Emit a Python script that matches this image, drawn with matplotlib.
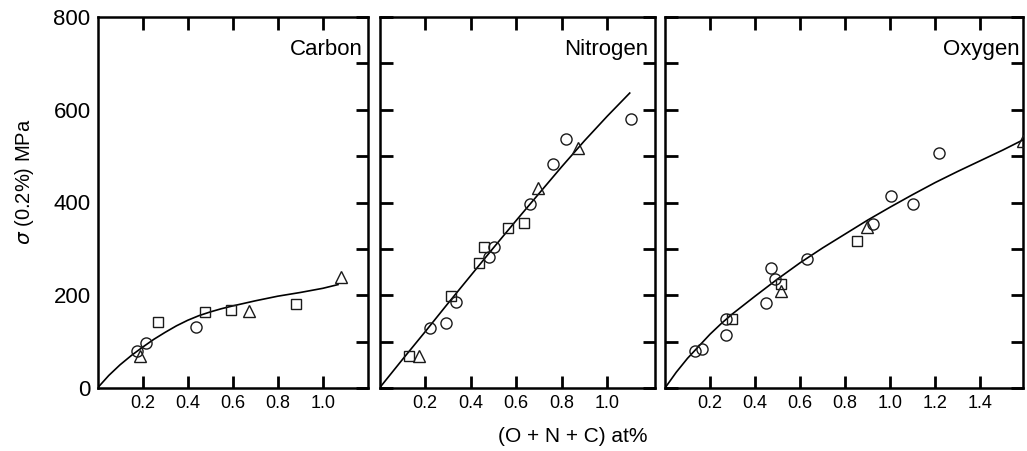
import matplotlib.pyplot as plt

plt.rcParams['font.family'] = 'Liberation Sans'

# Carbon panel
carbon_fit_x = [0.0, 0.05, 0.1, 0.15, 0.2, 0.25, 0.3, 0.35, 0.4, 0.45, 0.5, 0.55, 0.6,
                0.7, 0.8, 0.9, 1.0, 1.067]
carbon_fit_y = [0, 27, 50, 70, 88, 105, 120, 134, 146, 156, 164, 171, 177,
                188, 198, 206, 215, 223]
carbon_circ_x = [0.174, 0.216, 0.438]
carbon_circ_y = [80, 98, 131]
carbon_sq_x = [0.27, 0.475, 0.592, 0.882]
carbon_sq_y = [143, 164, 168, 182]
carbon_tri_x = [0.189, 0.673, 1.082]
carbon_tri_y = [70, 167, 240]

# Nitrogen panel
nitro_fit_x = [0.0, 0.1, 0.2, 0.3, 0.4, 0.5, 0.6, 0.7, 0.8, 0.9, 1.0, 1.099]
nitro_fit_y = [0, 61, 121, 182, 242, 302, 361, 419, 477, 533, 586, 636]
nitro_circ_x = [0.22, 0.29, 0.337, 0.481, 0.503, 0.659, 0.762, 0.82, 1.106]
nitro_circ_y = [130, 141, 185, 283, 305, 397, 482, 537, 580]
nitro_sq_x = [0.129, 0.315, 0.437, 0.457, 0.564, 0.634]
nitro_sq_y = [70, 198, 270, 305, 344, 356]
nitro_tri_x = [0.173, 0.696, 0.872]
nitro_tri_y = [70, 431, 517]

# Oxygen panel
oxy_fit_x = [0.0, 0.05, 0.1, 0.15, 0.2, 0.25, 0.3, 0.4, 0.5, 0.6, 0.7, 0.8, 0.9,
             1.0, 1.1, 1.2, 1.3, 1.4, 1.5, 1.59]
oxy_fit_y = [0, 34, 64, 90, 116, 139, 160, 198, 235, 270, 302, 332, 362,
             390, 417, 443, 467, 490, 513, 535]
oxy_circ_x = [0.133, 0.163, 0.27, 0.27, 0.449, 0.47, 0.489, 0.63, 0.926, 1.003, 1.1, 1.219]
oxy_circ_y = [80, 84, 148, 114, 183, 259, 234, 278, 354, 415, 397, 507]
oxy_sq_x = [0.296, 0.516, 0.852]
oxy_sq_y = [148, 224, 317]
oxy_tri_x = [0.516, 0.896, 1.59]
oxy_tri_y = [210, 348, 533]

panels = [
    ("Carbon", 1.2, [97.5, 270.5], carbon_fit_x, carbon_fit_y,
     (carbon_circ_x, carbon_circ_y), (carbon_sq_x, carbon_sq_y), (carbon_tri_x, carbon_tri_y), 5),
    ("Nitrogen", 1.21, [379.5, 275.5], nitro_fit_x, nitro_fit_y,
     (nitro_circ_x, nitro_circ_y), (nitro_sq_x, nitro_sq_y), (nitro_tri_x, nitro_tri_y), 7),
    ("Oxygen", 1.59, [665, 358], oxy_fit_x, oxy_fit_y,
     (oxy_circ_x, oxy_circ_y), (oxy_sq_x, oxy_sq_y), (oxy_tri_x, oxy_tri_y), 3),
]

W, H = 1027, 451
fig = plt.figure(figsize=(W / 100, H / 100), dpi=100)

for i, (name, xmax, (left, width), fx, fy, circ, sq, tri, tpad) in enumerate(panels):
    ax = fig.add_axes([left / W, 1 - 388 / H, width / W, 371 / H])
    ax.plot(fx, fy, color='black', lw=1.2, zorder=2)
    mk = dict(ls='none', mfc='none', mec='#1a1a1a', mew=1.0, zorder=3)
    ax.plot(circ[0], circ[1], marker='o', ms=8, **mk)
    ax.plot(sq[0], sq[1], marker='s', ms=7.5, **mk)
    ax.plot(tri[0], tri[1], marker='^', ms=9, **mk)
    ax.set_xlim(0, xmax)
    ax.set_ylim(0, 800)

    xt = [0.2, 0.4, 0.6, 0.8, 1.0, 1.2, 1.4]
    xt = [t for t in xt if t < xmax - 0.05]
    ax.set_xticks(xt, ['%.1f' % t for t in xt])
    yt = list(range(0, 900, 100))
    if i == 0:
        ax.set_yticks(yt, [str(t) if t % 200 == 0 else '' for t in yt])
    else:
        ax.set_yticks(yt, ['' for t in yt])

    ax.tick_params(direction='in', length=9, width=2, top=True, right=True)
    ax.tick_params(axis='x', labelsize=13, pad=5)
    ax.tick_params(axis='y', labelsize=16, pad=4)
    if i == 0:
        ax.tick_params(axis='y', left=False, labelleft=True, pad=5)
    for s in ax.spines.values():
        s.set_linewidth(1.8)

    ax.annotate(name, xy=(1, 1), xycoords='axes fraction',
                xytext=(-tpad, -38), textcoords='offset pixels',
                ha='right', va='baseline', fontsize=16)

fig.text(25 / W, 1 - 182 / H, r'$\sigma$ (0.2%) MPa', rotation=90,
         ha='center', va='center', fontsize=14.5)
fig.text(573 / W, 1 - 436 / H, '(O + N + C) at%', ha='center', va='center', fontsize=15)

fig.savefig('out.png', dpi=100)
